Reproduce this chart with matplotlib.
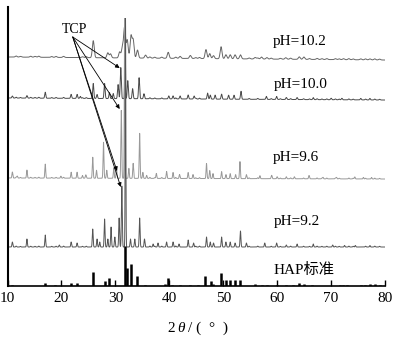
import numpy as np
import matplotlib
matplotlib.use("Agg")
import matplotlib.pyplot as plt

plt.rcParams['font.family'] = ['Liberation Serif', 'Noto Sans CJK SC']

# peak positions (2 theta, deg) and heights (arbitrary, per pattern)
ph102_pos = [25.9, 28.6, 29.1, 30.8, 31.3, 31.7, 32.2, 32.9, 33.3, 34.1, 35.6,
             39.8, 42.0, 43.9, 46.8, 47.5, 48.2, 49.6, 50.5, 51.3, 52.2, 53.2,
             55.9, 57.1, 58.1, 61.6, 64.1, 65.0, 72.3, 75.5, 77.2]
ph102_h = [17, 5, 4, 6, 10, 30, 18, 22, 18, 8, 3,
           6, 2, 3, 9, 5, 3, 12, 4, 4, 4, 4,
           1.5, 2, 1.5, 1.5, 2.5, 1.5, 1, 1, 1]

ph100_pos = [10.9, 13.6, 17.0, 21.8, 22.9, 23.5, 25.9, 26.6, 28.0, 28.9, 29.6,
             30.5, 31.0, 31.8, 32.3, 33.2, 34.4, 35.3, 39.9, 40.7, 42.0, 43.5,
             44.6, 47.1, 47.6, 48.5, 49.7, 51.0, 52.0, 53.3, 58.0, 59.9, 61.7,
             63.7, 66.7, 70.0, 72.0, 75.5, 77.2]
ph100_h = [2, 2.5, 6, 4, 4, 2, 15, 4, 15, 6, 5,
           14, 31, 80, 18, 10, 21, 5, 3, 3, 3, 4,
           3, 6, 4, 4, 5, 4, 4, 8, 3, 3, 2,
           2, 2, 1.5, 1.5, 1.5, 1.5]

ph96_pos = [10.9, 11.8, 13.6, 17.0, 19.9, 21.8, 22.9, 23.9, 24.5, 25.8, 26.5,
            27.8, 28.4, 29.7, 30.2, 31.1, 31.72, 32.5, 33.3, 34.5, 35.1, 35.8,
            37.6, 39.5, 40.7, 41.9, 43.5, 44.4, 46.9, 47.5, 48.1, 49.7, 50.5,
            51.3, 52.3, 53.1, 54.3, 56.8, 59.0, 60.0, 61.7, 63.2, 65.9, 68.5,
            71.0, 74.4, 76.0, 77.5]
ph96_h = [6, 2, 8, 14, 2, 6, 6, 2, 3, 21, 8,
          36, 8, 10, 10, 68, 160, 10, 15, 45, 6, 3,
          5, 7, 6, 4, 6, 4, 15, 8, 5, 7, 4,
          5, 4, 17, 4, 3, 3, 2, 2, 2, 3, 1.5,
          1.5, 2, 1.5, 1.5]

ph92_pos = [10.9, 13.6, 17.0, 19.6, 21.8, 22.9, 25.8, 26.6, 27.1, 28.0, 28.6,
            29.2, 29.9, 30.7, 31.2, 31.88, 32.8, 33.6, 34.5, 35.4, 37.0, 37.9,
            39.5, 40.7, 41.8, 43.5, 44.5, 46.9, 47.6, 48.2, 49.7, 50.5, 51.3,
            52.2, 53.2, 54.3, 57.7, 59.9, 61.7, 63.7, 66.7, 70.3, 72.5, 74.5,
            77.2]
ph92_h = [5, 8, 12, 2, 5, 4, 18, 8, 5, 28, 8,
          20, 10, 29, 61, 229, 8, 8, 29, 8, 3, 4,
          5, 5, 3, 7, 4, 10, 5, 4, 10, 5, 5,
          4, 16, 4, 4, 4, 2, 3, 3, 2, 1.5, 1.5,
          1.5]

# small background ripples read along the flat parts of the traces
ripple_pos = [11.6, 12.4, 14.3, 15.1, 15.8, 18.2, 19.0, 20.4, 23.9, 24.6,
              36.4, 37.3, 38.6, 41.2, 44.9, 45.6, 54.8, 56.4, 58.9, 60.6,
              62.5, 64.9, 66.0, 67.4, 68.3, 69.2, 70.8, 71.5, 73.3, 74.1,
              76.4, 78.1, 79.0]
ripple_h = [0.9, 0.6, 0.8, 0.7, 0.9, 0.7, 0.8, 0.9, 0.7, 0.8,
            1.0, 0.8, 0.9, 1.0, 0.8, 0.9, 0.8, 0.9, 0.8, 0.7,
            0.9, 0.8, 0.7, 0.9, 0.7, 0.8, 0.8, 0.7, 0.9, 0.7,
            0.8, 0.9, 0.7]

hap_pos = [10.8, 16.9, 18.8, 21.8, 22.9, 25.9, 28.1, 28.9, 31.8, 32.2, 32.9,
           34.0, 35.5, 39.2, 39.8, 40.5, 42.0, 43.8, 45.3, 46.7, 47.7, 48.1,
           49.5, 50.5, 51.3, 52.1, 53.1, 55.9, 57.1, 58.1, 60.0, 61.7, 63.0,
           64.1, 65.0, 66.4, 71.6, 72.3, 73.0, 75.6, 76.2, 77.2, 78.2, 79.0]
hap_h = [1, 3, 1, 3, 3, 14, 5, 8, 40, 18, 22,
         10, 1.5, 2, 8, 1, 1.5, 1.5, 1, 10, 5, 2,
         13, 6, 6, 6, 6, 2, 1.5, 1.5, 1, 1.5, 1.5,
         3, 2, 1.5, 1.5, 1.5, 1, 1.5, 1, 2, 2, 1]

# vertical offsets (baseline at 10 deg, at 80 deg)
base102 = (229, 226)
base100 = (188, 186)
base96 = (108, 107)
base92 = (39, 39)


def pattern(x, pos, h, base, w, ripple=1.0):
    y = np.linspace(base[0], base[1], len(x))
    for p, a in zip(list(pos) + ripple_pos, list(h) + [r * ripple for r in ripple_h]):
        ww = 0.06 if a > 70 else w
        y = y + a * np.exp(-0.5 * ((x - p) / ww) ** 2)
    return y


fig = plt.figure(figsize=(4.02, 3.44), dpi=100)
ax = fig.add_axes([0.0187, 0.1686, 0.939, 0.811])

x = np.linspace(10, 80, 8001)
ax.plot(x, pattern(x, ph102_pos, ph102_h, base102, 0.17, 1.2), color='#666666', lw=0.7)
ax.plot(x, pattern(x, ph100_pos, ph100_h, base100, 0.1), color='#4a4a4a', lw=0.7)
ax.plot(x, pattern(x, ph96_pos, ph96_h, base96, 0.08), color='#999999', lw=0.7)
ax.plot(x, pattern(x, ph92_pos, ph92_h, base92, 0.08), color='#555555', lw=0.7)
ax.vlines(hap_pos, 0, hap_h, color='black', lw=1.8)

fs = 11
ax.text(64.2, 245, 'pH=10.2', fontsize=fs, ha='center', va='center')
ax.text(64.4, 202, 'pH=10.0', fontsize=fs, ha='center', va='center')
ax.text(63.5, 129, 'pH=9.6', fontsize=fs, ha='center', va='center')
ax.text(63.7, 65, 'pH=9.2', fontsize=fs, ha='center', va='center')
ax.text(65.0, 16, 'HAP标准', fontsize=fs, ha='center', va='center')
ax.text(22.4, 257, 'TCP', fontsize=10, ha='center', va='center')

tips = [(30.8, 218), (30.8, 177), (30.3, 115), (31.0, 99)]
for t in tips:
    ax.annotate('', xy=t, xytext=(22.1, 249),
                arrowprops=dict(arrowstyle='-|>', lw=0.6, color='black',
                                mutation_scale=6, shrinkA=0, shrinkB=0))

ax.set_xlim(10, 80)
ax.set_ylim(0, 279)
ax.set_xticks(range(10, 81, 10))
ax.set_yticks([])
ax.tick_params(axis='x', direction='in', length=4, width=1, labelsize=fs, pad=4)
for s in ['top', 'right']:
    ax.spines[s].set_visible(False)
ax.spines['left'].set_linewidth(1.5)
ax.spines['bottom'].set_linewidth(1.2)

fig.text(0.4155, 0.046, '2', fontsize=fs, ha='left', va='center')
fig.text(0.442, 0.046, 'θ', fontsize=fs, ha='left', va='center', style='italic')
fig.text(0.467, 0.046, '/ (  °  )', fontsize=fs, ha='left', va='center')

fig.savefig('out.png', dpi=100)
